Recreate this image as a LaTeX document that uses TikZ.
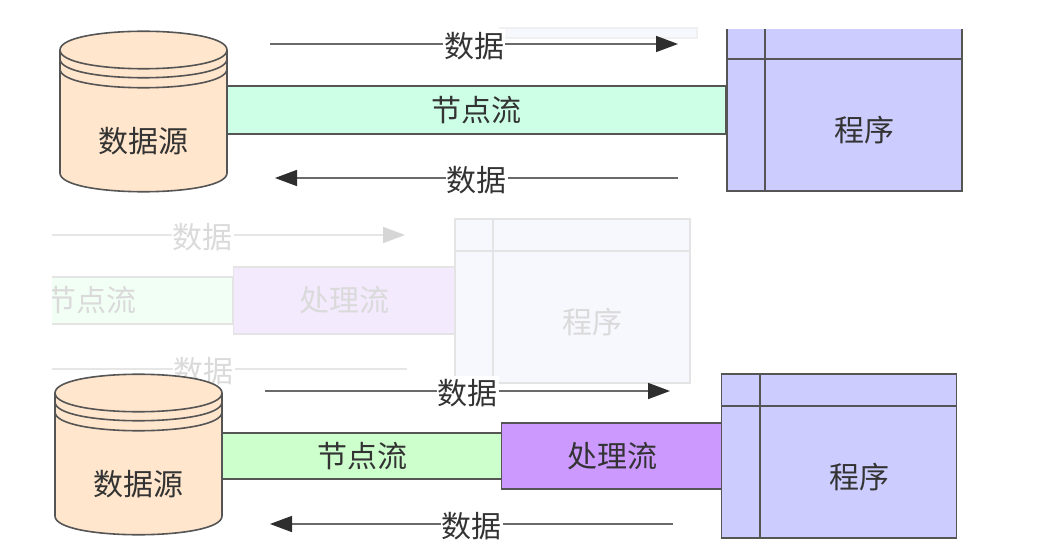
\documentclass[tikz,border=0pt]{standalone}
\usepackage{fontspec}
\setmainfont{Noto Sans CJK SC}
\usetikzlibrary{positioning, calc, arrows.meta}

\definecolor{lineclr}{HTML}{555555}
\definecolor{textclr}{HTML}{333333}
\definecolor{arrowclr}{HTML}{6A6A6A}
\definecolor{headclr}{HTML}{2E2E2E}
\definecolor{storeclr}{HTML}{FFE6CC}
\definecolor{flowclr}{HTML}{CCFFE6}
\definecolor{flowtwoclr}{HTML}{CCFFCC}
\definecolor{procclr}{HTML}{CC99FF}
\definecolor{progclr}{HTML}{CCCCFF}

% data source cylinder: name, centre x, top y
\newcommand{\drawstore}[3]{%
  \draw[boxline, fill=storeclr] ({#2-83.5},{#3+19}) -- ({#2-83.5},{#3+142})
    .. controls ({#2-83.5},{#3+167}) and ({#2+83.5},{#3+167}) .. ({#2+83.5},{#3+142})
    -- ({#2+83.5},{#3+19})
    .. controls ({#2+83.5},{#3-6}) and ({#2-83.5},{#3-6}) .. cycle;
  \foreach \off in {0,9,19} % rings under the lid
    \draw[boxline] ({#2-83.5},{#3+19+\off}) .. controls ({#2-83.5},{#3+44+\off}) and ({#2+83.5},{#3+44+\off}) .. ({#2+83.5},{#3+19+\off});
  \node[txt] (#1) at ({#2},{#3+110}) {数据源};
}

% program box with the two inner lines: name, centre x, centre y
\newcommand{\drawprogram}[3]{%
  \node[progbox] (#1) at (#2,#3) {};
  \draw[boxline] ($(#1.north west)+(39,0)$) -- ($(#1.south west)+(39,0)$); % inner vertical line
  \draw[boxline] ($(#1.north west)+(0,33)$) -- ($(#1.north east)+(0,33)$); % inner horizontal line
  \node[txt] (#1txt) at ($(#1.center)+(20,21)$) {程序};
}

\begin{document}
\begin{tikzpicture}[x=1pt, y=-1pt,
    txt/.style={text=textclr, font=\fontsize{30}{35}\selectfont, inner sep=0pt},
    boxline/.style={draw=lineclr, line width=1.6pt},
    flowbar/.style={boxline, txt, minimum height=#1},
    progbox/.style={boxline, fill=progclr, minimum width=235pt, minimum height=164pt, inner sep=0pt},
    dataflow/.style={draw=arrowclr, line width=1.6pt, -{Triangle[length=22pt, width=16pt, color=headclr]}},
    datalabel/.style={txt, fill=white, inner xsep=1pt, inner ysep=3pt, yshift=-2pt}]

    \useasboundingbox (0,0) rectangle (1045,556);
    \fill[white] (0,0) rectangle (1045,556);

    % faded copy in the middle
    \begin{scope}
        \definecolor{lineclr}{HTML}{E4E4E4}
        \definecolor{textclr}{HTML}{DADADA}
        \definecolor{arrowclr}{HTML}{E6E6E6}
        \definecolor{headclr}{HTML}{D6D6D6}
        \definecolor{flowclr}{HTML}{F2FFF5}
        \definecolor{procclr}{HTML}{F3EAFD}
        \definecolor{progclr}{HTML}{F7F7FE}
        \draw[draw=black!6, line width=1.2pt, fill=progclr] (500,28) rectangle (697,38); % bit of an older box
        \clip (52,200) rectangle (720,400);

        \coordinate (g1s) at (0,235);
        \coordinate (g1e) at (405,235);
        \draw[dataflow] (g1s) -- node[datalabel] {数据} (g1e);

        \node[flowbar=47pt, fill=flowclr, minimum width=283pt] (gflow) at (91.5,300.5) {节点流};
        \node[flowbar=67pt, fill=procclr, minimum width=222pt, right=-1pt of gflow] (gproc) {处理流};
        \drawprogram{gprog}{572.5}{301}

        \coordinate (g2s) at (407,369);
        \coordinate (g2e) at (0,369);
        \draw[dataflow] (g2s) -- node[datalabel] {数据} (g2e);
    \end{scope}

    % top: data source -- node stream -- program
    \begin{scope}
        \clip (0,30) rectangle (1045,200);
        \node[flowbar=48pt, fill=flowclr, minimum width=499pt] (flow) at (476.5,110) {节点流};
        \drawstore{src}{143.5}{31}
        \drawprogram{prog}{844.5}{109}

        \coordinate (d1s) at (270,44);
        \coordinate (d1e) at (678,44);
        \draw[dataflow] (d1s) -- node[datalabel] {数据} (d1e); % data to the program
        \coordinate (d2s) at (678,178);
        \coordinate (d2e) at (275,178);
        \draw[dataflow] (d2s) -- node[datalabel] {数据} (d2e); % data back to the source
    \end{scope}

    % bottom: data source -- node stream -- processing stream -- program
    \node[flowbar=46pt, fill=flowtwoclr, minimum width=280pt] (flowb) at (362,456) {节点流};
    \node[flowbar=66pt, fill=procclr, minimum width=222pt, right=-2pt of flowb] (procb) {处理流};
    \drawstore{srcb}{138.5}{374}
    \drawprogram{progb}{839}{456}

    \coordinate (d3s) at (265,391);
    \coordinate (d3e) at (670,391);
    \draw[dataflow] (d3s) -- node[datalabel] {数据} (d3e);
    \coordinate (d4s) at (673,524);
    \coordinate (d4e) at (270,524);
    \draw[dataflow] (d4s) -- node[datalabel] {数据} (d4e);
\end{tikzpicture}
\end{document}
